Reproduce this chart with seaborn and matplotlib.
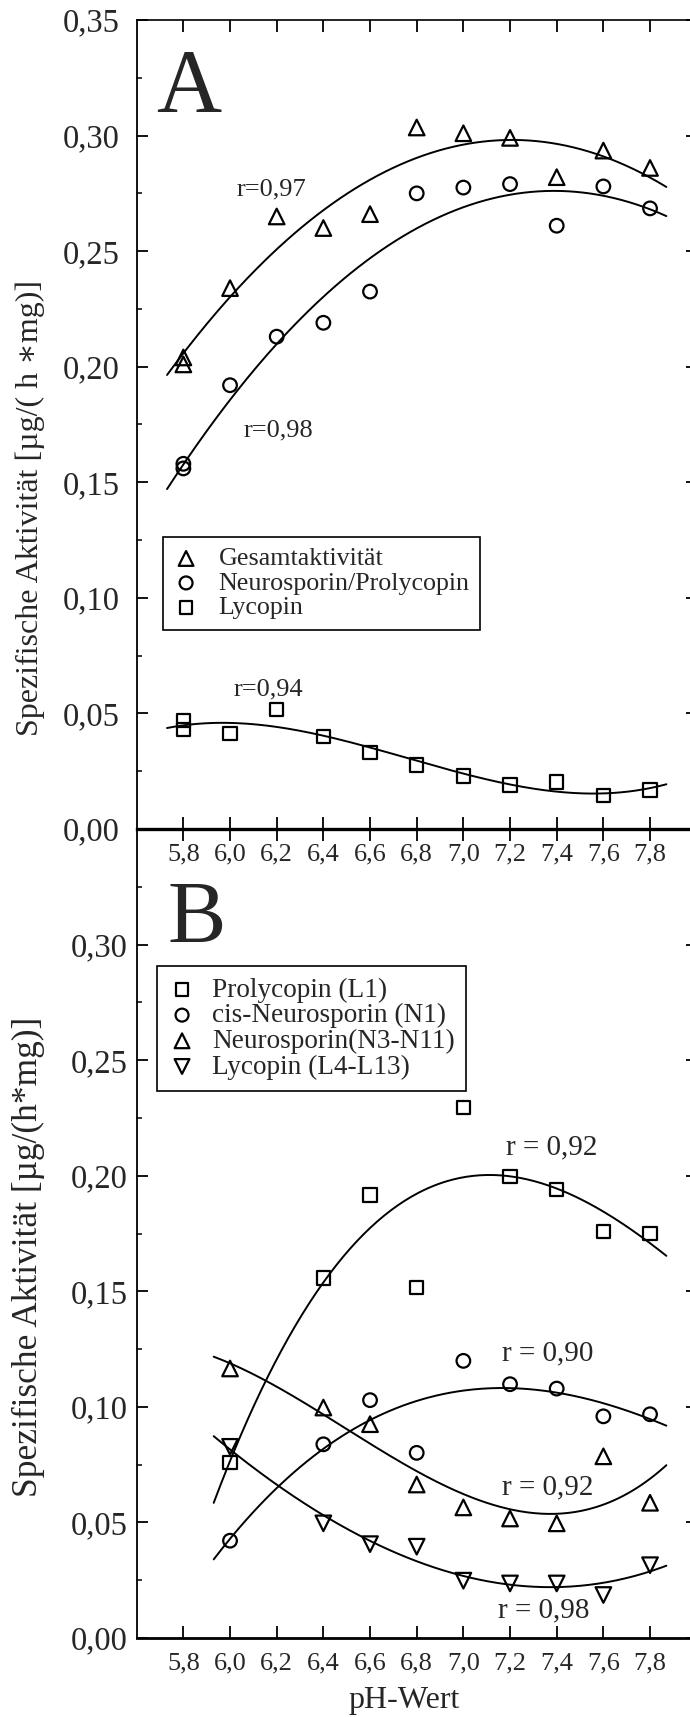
import numpy as np
import matplotlib
matplotlib.use("Agg")
import matplotlib.pyplot as plt
from matplotlib.ticker import FixedLocator, MultipleLocator
import seaborn as sns

# ---------------- data ----------------
ph_A = [5.8, 5.8, 6.0, 6.2, 6.4, 6.6, 6.8, 7.0, 7.2, 7.4, 7.6, 7.8]
gesamt_A = [0.204, 0.201, 0.234, 0.265, 0.260, 0.266, 0.3035, 0.301, 0.299, 0.282, 0.2935, 0.286]
neuro_A = [0.158, 0.156, 0.192, 0.213, 0.219, 0.2325, 0.275, 0.2775, 0.279, 0.261, 0.278, 0.2685]
lyco_A = [0.047, 0.043, 0.0414, 0.0517, 0.040, 0.033, 0.0277, 0.0229, 0.019, 0.0204, 0.0144, 0.0169]
labels_A = ["Gesamtaktivität", "Neurosporin/Prolycopin", "Lycopin"]
r_A = ["r=0,97", "r=0,98", "r=0,94"]

ph_B = [6.0, 6.4, 6.6, 6.8, 7.0, 7.2, 7.4, 7.6, 7.8]
prolyco_B = [0.0758, 0.1557, 0.1917, 0.1515, 0.2296, 0.1998, 0.1939, 0.1759, 0.1749]
cisneuro_B = [0.0421, 0.0838, 0.1029, 0.0801, 0.1199, 0.1098, 0.1079, 0.0959, 0.0968]
neuro_B = [0.1166, 0.0997, 0.0925, 0.0664, 0.0565, 0.0517, 0.0496, 0.0786, 0.0585]
lyco_B = [0.0827, 0.0496, 0.0406, 0.0395, 0.0248, 0.0236, 0.0236, 0.0186, 0.0315]
labels_B = ["Prolycopin (L1)", "cis-Neurosporin (N1)", "Neurosporin(N3-N11)", "Lycopin (L4-L13)"]
r_B = ["r = 0,92", "r = 0,90", "r = 0,92", "r = 0,98"]

x_ticks = [5.8, 6.0, 6.2, 6.4, 6.6, 6.8, 7.0, 7.2, 7.4, 7.6, 7.8]
x_ticklabels = ["5,8", "6,0", "6,2", "6,4", "6,6", "6,8", "7,0", "7,2", "7,4", "7,6", "7,8"]
y_ticks_A = [0.0, 0.05, 0.10, 0.15, 0.20, 0.25, 0.30, 0.35]
y_ticklabels_A = ["0,00", "0,05", "0,10", "0,15", "0,20", "0,25", "0,30", "0,35"]
y_ticks_B = [0.0, 0.05, 0.10, 0.15, 0.20, 0.25, 0.30]
y_ticklabels_B = ["0,00", "0,05", "0,10", "0,15", "0,20", "0,25", "0,30"]

# ---------------- style ----------------
sns.set_style("ticks")
plt.rcParams["font.family"] = ["Liberation Serif", "DejaVu Serif"]

W, H = 690, 1717
fig = plt.figure(figsize=(W / 100, H / 100), dpi=100)


def fx(x):
    return x / W


def fy(y):
    return 1 - y / H


left_px, right_px = 136.7, 696.7
axA = fig.add_axes([fx(left_px), fy(829), (right_px - left_px) / W, (829 - 20) / H])
axB = fig.add_axes([fx(left_px), fy(1638), (right_px - left_px) / W, (1638 - 829) / H])
for ax in (axA, axB):
    ax.patch.set_alpha(0)
    ax.set_xlim(5.6, 8.0)
    ax.set_ylim(0, 0.35)

MS_TRI, MS_CIR, MS_SQ = 11.2, 9.8, 9.6
EW = 1.6


def scatter(ax, x, y, marker, ms, label):
    sns.scatterplot(x=x, y=y, marker=marker, s=ms ** 2, facecolor="none",
                    edgecolor="black", linewidth=EW, ax=ax, label=label,
                    zorder=3, legend=False)


def fit(ax, x, y, deg, x0, x1):
    coef = np.polyfit(x, y, deg)
    xs = np.linspace(x0, x1, 200)
    sns.lineplot(x=xs, y=np.polyval(coef, xs), color="black", lw=1.4, ax=ax,
                 estimator=None, sort=False, legend=False, zorder=2)


# ---- panel A ----
scatter(axA, ph_A, gesamt_A, "^", MS_TRI, labels_A[0])
scatter(axA, ph_A, neuro_A, "o", MS_CIR, labels_A[1])
scatter(axA, ph_A, lyco_A, "s", MS_SQ, labels_A[2])
fit(axA, ph_A, gesamt_A, 2, 5.73, 7.87)
fit(axA, ph_A, neuro_A, 2, 5.73, 7.87)
fit(axA, ph_A, lyco_A, 3, 5.73, 7.87)

# ---- panel B ----
scatter(axB, ph_B, prolyco_B, "s", MS_SQ, labels_B[0])
scatter(axB, ph_B, cisneuro_B, "o", MS_CIR, labels_B[1])
scatter(axB, ph_B, neuro_B, "^", MS_TRI, labels_B[2])
scatter(axB, ph_B, lyco_B, "v", MS_TRI, labels_B[3])
fit(axB, ph_B, prolyco_B, 3, 5.93, 7.87)
fit(axB, ph_B, cisneuro_B, 3, 5.93, 7.87)
fit(axB, ph_B, neuro_B, 3, 5.93, 7.87)
fit(axB, ph_B, lyco_B, 3, 5.93, 7.87)

# ---- axes / ticks ----
for ax, yt, ytl, ypad in ((axA, y_ticks_A, y_ticklabels_A, 12.0), (axB, y_ticks_B, y_ticklabels_B, 6.5)):
    ax.xaxis.set_major_locator(FixedLocator(x_ticks))
    ax.set_xticklabels(x_ticklabels)
    ax.yaxis.set_major_locator(FixedLocator(yt))
    ax.set_yticklabels(ytl)
    ax.yaxis.set_minor_locator(MultipleLocator(0.025))
    ax.tick_params(axis="both", which="both", direction="in", top=True, right=True,
                   bottom=True, left=True, labeltop=False, labelright=False,
                   color="black")
    ax.tick_params(axis="x", which="major", length=8.3, width=1.3, labelsize=19, pad=10.5)
    ax.tick_params(axis="x", which="minor", length=0)
    ax.tick_params(axis="y", which="major", length=8.0, width=1.3, labelsize=23.5, pad=ypad)
    ax.tick_params(axis="y", which="minor", length=3.6, width=1.1)
    ax.set_xlabel("")
    ax.set_ylabel("")
    for s in ax.spines.values():
        s.set_color("black")

axA.spines["top"].set_linewidth(1.2)
axA.spines["left"].set_linewidth(1.3)
axA.spines["right"].set_linewidth(1.3)
axA.spines["bottom"].set_linewidth(2.4)
axB.spines["top"].set_visible(False)
axB.spines["left"].set_linewidth(1.3)
axB.spines["right"].set_linewidth(1.3)
axB.spines["bottom"].set_linewidth(2.0)

# ---- legends ----
legA = axA.legend(loc="upper left", bbox_to_anchor=(fx(162.7), fy(536.7)),
                  bbox_transform=fig.transFigure, borderaxespad=0, frameon=True,
                  fancybox=False, edgecolor="black", framealpha=1, fontsize=18.7,
                  handlelength=1.0, handletextpad=0.75, borderpad=0.4,
                  labelspacing=0.05, markerscale=0.95)
legA.get_frame().set_linewidth(1.2)
legB = axB.legend(loc="upper left", bbox_to_anchor=(fx(157), fy(966)),
                  bbox_transform=fig.transFigure, borderaxespad=0, frameon=True,
                  fancybox=False, edgecolor="black", framealpha=1, fontsize=19.6,
                  handlelength=1.0, handletextpad=0.6, borderpad=0.42,
                  labelspacing=0.02, markerscale=0.95)
legB.get_frame().set_linewidth(1.2)

# ---- annotations ----
axA.text(6.176, 0.2766, r_A[0], ha="center", va="center", fontsize=19)
axA.text(6.206, 0.1724, r_A[1], ha="center", va="center", fontsize=19)
axA.text(6.163, 0.0605, r_A[2], ha="center", va="center", fontsize=19)
axB.text(7.380, 0.2122, r_B[0], ha="center", va="center", fontsize=21)
axB.text(7.363, 0.1232, r_B[1], ha="center", va="center", fontsize=21)
axB.text(7.363, 0.0653, r_B[2], ha="center", va="center", fontsize=21)
axB.text(7.346, 0.0121, r_B[3], ha="center", va="center", fontsize=21)

fig.text(fx(156), fy(112), "A", fontsize=65, ha="left", va="baseline")
fig.text(fx(168), fy(942), "B", fontsize=63, ha="left", va="baseline")

fig.text(fx(30), fy(508), "Spezifische Aktivität [µg/( h ∗mg)]", rotation=90,
         ha="center", va="center", fontsize=23)
fig.text(fx(28.5), fy(1257), "Spezifische Aktivität [µg/(h*mg)]", rotation=90,
         ha="center", va="center", fontsize=25.5)
fig.text(fx(404), fy(1708), "pH-Wert", ha="center", va="baseline", fontsize=23)

fig.savefig("out.png", dpi=100)
